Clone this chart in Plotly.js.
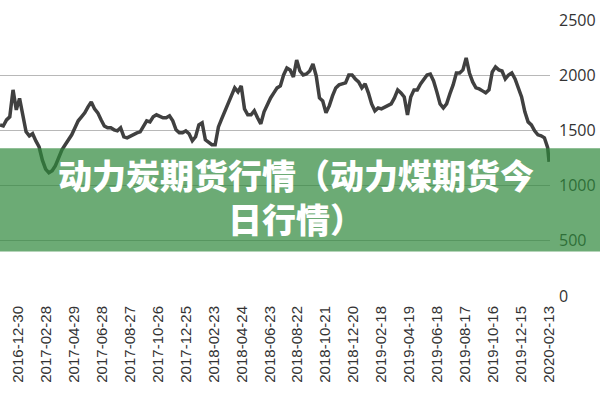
<!DOCTYPE html>
<html>
<head>
<meta charset="utf-8">
<script src="https://cdn.plot.ly/plotly-3.0.1.min.js"></script>
<style>html,body{margin:0;padding:0;background:#fff;}#chart{width:600px;height:400px;}</style>
</head>
<body>
<div id="chart"></div>
<script>
const dates = [
'2016-11-21','2016-11-28','2016-12-05','2016-12-12','2016-12-19','2016-12-26',
'2017-01-02','2017-01-09','2017-01-16','2017-01-23','2017-01-30','2017-02-06','2017-02-13','2017-02-20','2017-02-27',
'2017-03-06','2017-03-13','2017-03-20','2017-03-27','2017-04-03','2017-04-10','2017-04-17','2017-04-24',
'2017-05-01','2017-05-08','2017-05-15','2017-05-22','2017-05-29','2017-06-05','2017-06-12','2017-06-19','2017-06-26',
'2017-07-03','2017-07-10','2017-07-17','2017-07-24','2017-07-31','2017-08-07','2017-08-14','2017-08-21','2017-08-28',
'2017-09-04','2017-09-11','2017-09-18','2017-09-25','2017-10-02','2017-10-09','2017-10-16','2017-10-23','2017-10-30',
'2017-11-06','2017-11-13','2017-11-20','2017-11-27','2017-12-04','2017-12-11','2017-12-18','2017-12-25',
'2018-01-01','2018-01-08','2018-01-15','2018-01-22','2018-01-29','2018-02-05','2018-02-12','2018-02-19','2018-02-26',
'2018-03-05','2018-03-12','2018-03-19','2018-03-26','2018-04-02','2018-04-09','2018-04-16','2018-04-23','2018-04-30',
'2018-05-07','2018-05-14','2018-05-21','2018-05-28','2018-06-04','2018-06-11','2018-06-18','2018-06-25',
'2018-07-02','2018-07-09','2018-07-16','2018-07-23','2018-07-30','2018-08-06','2018-08-13','2018-08-20','2018-08-27',
'2018-09-03','2018-09-10','2018-09-17','2018-09-24','2018-10-01','2018-10-08','2018-10-15','2018-10-22','2018-10-29',
'2018-11-05','2018-11-12','2018-11-19','2018-11-26','2018-12-03','2018-12-10','2018-12-17','2018-12-24','2018-12-31',
'2019-01-07','2019-01-14','2019-01-21','2019-01-28','2019-02-04','2019-02-11','2019-02-18','2019-02-25',
'2019-03-04','2019-03-11','2019-03-18','2019-03-25','2019-04-01','2019-04-08','2019-04-15','2019-04-22','2019-04-29',
'2019-05-06','2019-05-13','2019-05-20','2019-05-27','2019-06-03','2019-06-10','2019-06-17','2019-06-24',
'2019-07-01','2019-07-08','2019-07-15','2019-07-22','2019-07-29','2019-08-05','2019-08-12','2019-08-19','2019-08-26',
'2019-09-02','2019-09-09','2019-09-16','2019-09-23','2019-09-30','2019-10-07','2019-10-14','2019-10-21','2019-10-28',
'2019-11-04','2019-11-11','2019-11-18','2019-11-25','2019-12-02','2019-12-09','2019-12-16','2019-12-23','2019-12-30',
'2020-01-06','2020-01-13','2020-01-20','2020-01-27','2020-02-03','2020-02-10','2020-02-13'
];
const prices = [
1550,1540,1595,1623,1867,1686,1790,1623,1487,1450,
1470,1405,1350,1230,1150,1116,1135,1180,1261,1325,
1370,1415,1460,1523,1587,1623,1659,1713,1758,1695,
1659,1596,1540,1523,1523,1505,1496,1523,1442,1433,
1451,1460,1478,1487,1532,1587,1577,1623,1641,1623,
1614,1614,1632,1587,1505,1478,1478,1496,1469,1406,
1442,1550,1568,1415,1388,1370,1370,1532,1605,1677,
1740,1812,1885,1849,1903,1695,1641,1641,1677,1614,
1559,1668,1740,1794,1840,1885,1903,2002,2066,2048,
1984,2138,2038,2002,2011,2038,2102,1993,1794,1767,
1659,1722,1812,1885,1912,1921,1930,2002,2002,1966,
1939,1885,1921,1840,1740,1677,1704,1695,1713,1722,
1740,1794,1867,1840,1803,1641,1803,1867,1867,1921,
1957,2002,2011,1948,1849,1740,1704,1740,1831,1912,
2020,2020,2048,2156,2020,1939,1885,1876,1858,1840,
1867,2029,2075,2048,2038,1966,2002,2020,1966,1885,
1803,1668,1577,1550,1496,1460,1451,1433,1343,1216
];
const tickDates = ['2016-12-30','2017-02-28','2017-04-29','2017-06-28','2017-08-27','2017-10-26','2017-12-25',
'2018-02-23','2018-04-24','2018-06-23','2018-08-22','2018-10-21','2018-12-20','2019-02-18','2019-04-19',
'2019-06-18','2019-08-17','2019-10-16','2019-12-15','2020-02-13'];
const yTicks = [0,500,1000,1500,2000,2500];
const titleLines = ['动力炭期货行情（动力煤期货今','日行情）'];

const trace = {
  x: dates, y: prices, type: 'scatter', mode: 'lines',
  line: {color: '#404040', width: 3.5},
  hoverinfo: 'skip'
};

const layout = {
  width: 600, height: 400,
  margin: {l: 0, r: 50, t: 20, b: 103.5},
  paper_bgcolor: '#ffffff', plot_bgcolor: '#ffffff',
  showlegend: false,
  xaxis: {
    type: 'date',
    range: ['2016-11-21', '2020-02-15'],
    tickvals: tickDates, ticktext: tickDates,
    tickangle: -90,
    tickfont: {family: 'Liberation Sans, Arial, sans-serif', size: 15, color: '#333333'},
    showgrid: false, zeroline: false, showline: false, ticks: '',
    ticklabelstandoff: 6
  },
  yaxis: {
    range: [0, 2500], side: 'right',
    tickvals: yTicks, ticktext: yTicks.map(String),
    tickfont: {family: 'Open Sans, Liberation Sans, sans-serif', size: 16, color: '#333333'},
    showgrid: true, gridcolor: '#b8b8b8', gridwidth: 1,
    zeroline: false, showline: false, ticks: '',
    ticklabelstandoff: 8
  },
  shapes: [{
    type: 'rect', xref: 'paper', yref: 'paper', layer: 'above',
    x0: -0.05, x1: 1.15, y0: 0.161, y1: 0.535,
    fillcolor: 'rgba(45,135,58,0.7)', line: {width: 0}
  }],
  annotations: [{
    xref: 'paper', yref: 'paper', x: 0.538, y: 0.36,
    xanchor: 'center', yanchor: 'middle', showarrow: false,
    text: titleLines.join('<br>'),
    font: {family: 'Noto Sans CJK SC, sans-serif', size: 34, color: '#ffffff', weight: 900},
    align: 'center'
  }]
};

Plotly.newPlot('chart', [trace], layout, {staticPlot: true, displayModeBar: false});
</script>
</body>
</html>
